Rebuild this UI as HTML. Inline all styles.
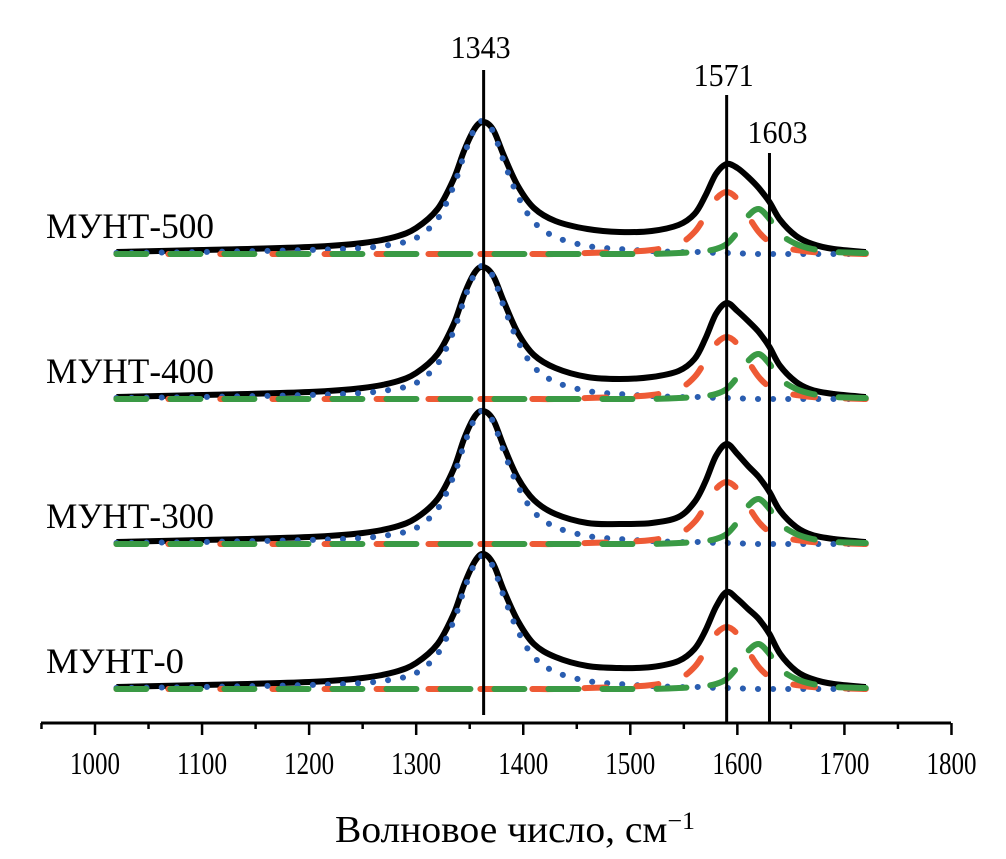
<!DOCTYPE html>
<html><head><meta charset="utf-8"><style>
body{margin:0;background:#fff}
svg{display:block}
text{font-family:"Liberation Serif",serif;fill:#000}
</style></head><body>
<svg id="chart" width="1006" height="859" viewBox="0 0 1006 859" xmlns="http://www.w3.org/2000/svg">
<g id="axis"></g>
<g id="series"></g>
<g id="refs"></g>
<text x="515" y="842" font-size="38" text-anchor="middle" textLength="360" lengthAdjust="spacingAndGlyphs">Волновое число, см<tspan dy="-13" font-size="25">−1</tspan></text>
</svg>
<script>
const wn = [1020,1100,1200,1250,1280,1300,1320,1335,1345,1355,1363,1372,1382,1395,1410,1430,1460,1490,1520,1545,1560,1570,1580,1590,1600,1610,1620,1630,1640,1655,1670,1690,1720];
const total0 = [2,4,7,11,17,26,45,75,105,128,135,125,98,68,45,32,23,21,22,28,40,58,82,97,90,80,70,55,35,18,10,5,2];
const total300 = [2,4,7,11,17,26,45,75,106,128,133,124,97,66,44,30,21,20,21,27,42,62,88,100,90,78,67,52,33,17,9,5,2];
const total400 = [2,4,7,11,17,26,45,75,105,127,132,123,97,66,44,31,22,20,22,28,40,60,85,96,88,78,67,52,33,17,9,5,2];
const total500 = [2,4,7,11,17,26,45,75,104,126,132,124,98,68,46,33,25,22,23,29,40,58,80,90,86,77,66,52,34,18,10,5,2];
const compD = [1,2,4,6,10,16,35,68,100,126,133,122,92,58,32,17,8,5,3,2,2,2,1,1,1,0,0,0,0,0,0,0,0];
const compG = [0,0,0,0,0,0,0,0,0,0,0,0,0,0,0,0,1,2,4,10,22,38,55,62,55,38,22,12,7,4,2,1,0];
const compDp = [0,0,0,0,0,0,0,0,0,0,0,0,0,0,0,0,0,0,0,1,2,3,5,10,22,38,45,35,20,10,5,2,1];
const samples = ["МУНТ-0","МУНТ-300","МУНТ-400","МУНТ-500"];
const baselines = [0,145,290,435];
const totals = [total0,total300,total400,total500];
const refLabels = ["1343","1571","1603"];
const refPos = [1363,1590,1630];
const ticks = [1000,1100,1200,1300,1400,1500,1600,1700,1800];

const NS="http://www.w3.org/2000/svg";
const X = v => 95 + (v-1000)*1.0706;
const Y0 = 689;
const Y = (b,h) => Y0 - b - h;
function mk(tag, parent){const e=document.createElementNS(NS,tag);parent.appendChild(e);return e;}
function smooth(pts){
  let d="M"+pts[0][0]+","+pts[0][1];
  for(let i=0;i<pts.length-1;i++){
    const p0=pts[Math.max(0,i-1)],p1=pts[i],p2=pts[i+1],p3=pts[Math.min(pts.length-1,i+2)];
    const c1=[p1[0]+(p2[0]-p0[0])/6,p1[1]+(p2[1]-p0[1])/6];
    const c2=[p2[0]-(p3[0]-p1[0])/6,p2[1]-(p3[1]-p1[1])/6];
    d+=" C"+c1[0].toFixed(1)+","+c1[1].toFixed(1)+" "+c2[0].toFixed(1)+","+c2[1].toFixed(1)+" "+p2[0].toFixed(1)+","+p2[1].toFixed(1);
  }
  return d;
}
const ax=document.getElementById('axis');
const axl=mk('line',ax);
axl.setAttribute('x1',41);axl.setAttribute('x2',951);axl.setAttribute('y1',723);axl.setAttribute('y2',723);
axl.setAttribute('stroke','#000');axl.setAttribute('stroke-width',3);


for(let v=950;v<=1800;v+=50){
  const t=mk('line',ax);const maj=v%100===0;
  t.setAttribute('x1',X(v));t.setAttribute('x2',X(v));t.setAttribute('y1',723);t.setAttribute('y2',maj?735:729);
  t.setAttribute('stroke','#000');t.setAttribute('stroke-width',2.5);
  
  
}
ticks.forEach(v=>{
  const t=mk('text',ax);t.setAttribute('x',X(v));t.setAttribute('y',774);t.setAttribute('font-size',32);t.setAttribute('text-anchor','middle');
  t.setAttribute('textLength',50);t.setAttribute('lengthAdjust','spacingAndGlyphs');
  t.textContent=v;
  
  
});
const sg=document.getElementById('series');
samples.forEach((name,si)=>{
  const b=baselines[si];
  const g=mk('g',sg);
  
  
  const comps=[[compD,'#2a5db0','0.1 15'],[compG,'#ee5a35','22 30'],[compDp,'#3a9a45','30 24']];
  const tot=totals[si];
  const pathT=mk('path',g);
  pathT.setAttribute('d',smooth(wn.map((w,i)=>[X(w),Y(b,tot[i])])));
  pathT.setAttribute('fill','none');pathT.setAttribute('stroke','#000');pathT.setAttribute('stroke-width',6);pathT.setAttribute('stroke-linejoin','round');
  
  
  comps.forEach((c,ci)=>{
    const p=mk('path',g);
    p.setAttribute('d',smooth(wn.map((w,i)=>[X(w),Y(b,c[0][i])])));
    p.setAttribute('fill','none');p.setAttribute('stroke',c[1]);p.setAttribute('stroke-width',6);
    p.setAttribute('stroke-dasharray',c[2]);p.setAttribute('stroke-linecap','round');
    
    
  });
  const l=mk('text',g);l.setAttribute('x',46);l.setAttribute('y',Y(b,0)-16);l.setAttribute('font-size',36);
  l.setAttribute('textLength',168);l.setAttribute('lengthAdjust','spacingAndGlyphs');
  if(name==="МУНТ-0") l.setAttribute('textLength',138);
  l.textContent=name;
  
  
});
const rg=document.getElementById('refs');
const refTop=[70,95,153];const labY=[58,86,143];
refLabels.forEach((lab,i)=>{
  const ln=mk('line',rg);
  ln.setAttribute('x1',X(refPos[i]));ln.setAttribute('x2',X(refPos[i]));ln.setAttribute('y1',refTop[i]);ln.setAttribute('y2',i===0?715:722);
  ln.setAttribute('stroke','#000');ln.setAttribute('stroke-width',3);
  
  
  const t=mk('text',rg);t.setAttribute('x',X(refPos[i])+(i===2?8:-3));t.setAttribute('y',labY[i]);t.setAttribute('font-size',32);t.setAttribute('text-anchor','middle');
  t.setAttribute('textLength',60);t.setAttribute('lengthAdjust','spacingAndGlyphs');
  t.textContent=lab;
  
  
});
</script>
</body></html>
